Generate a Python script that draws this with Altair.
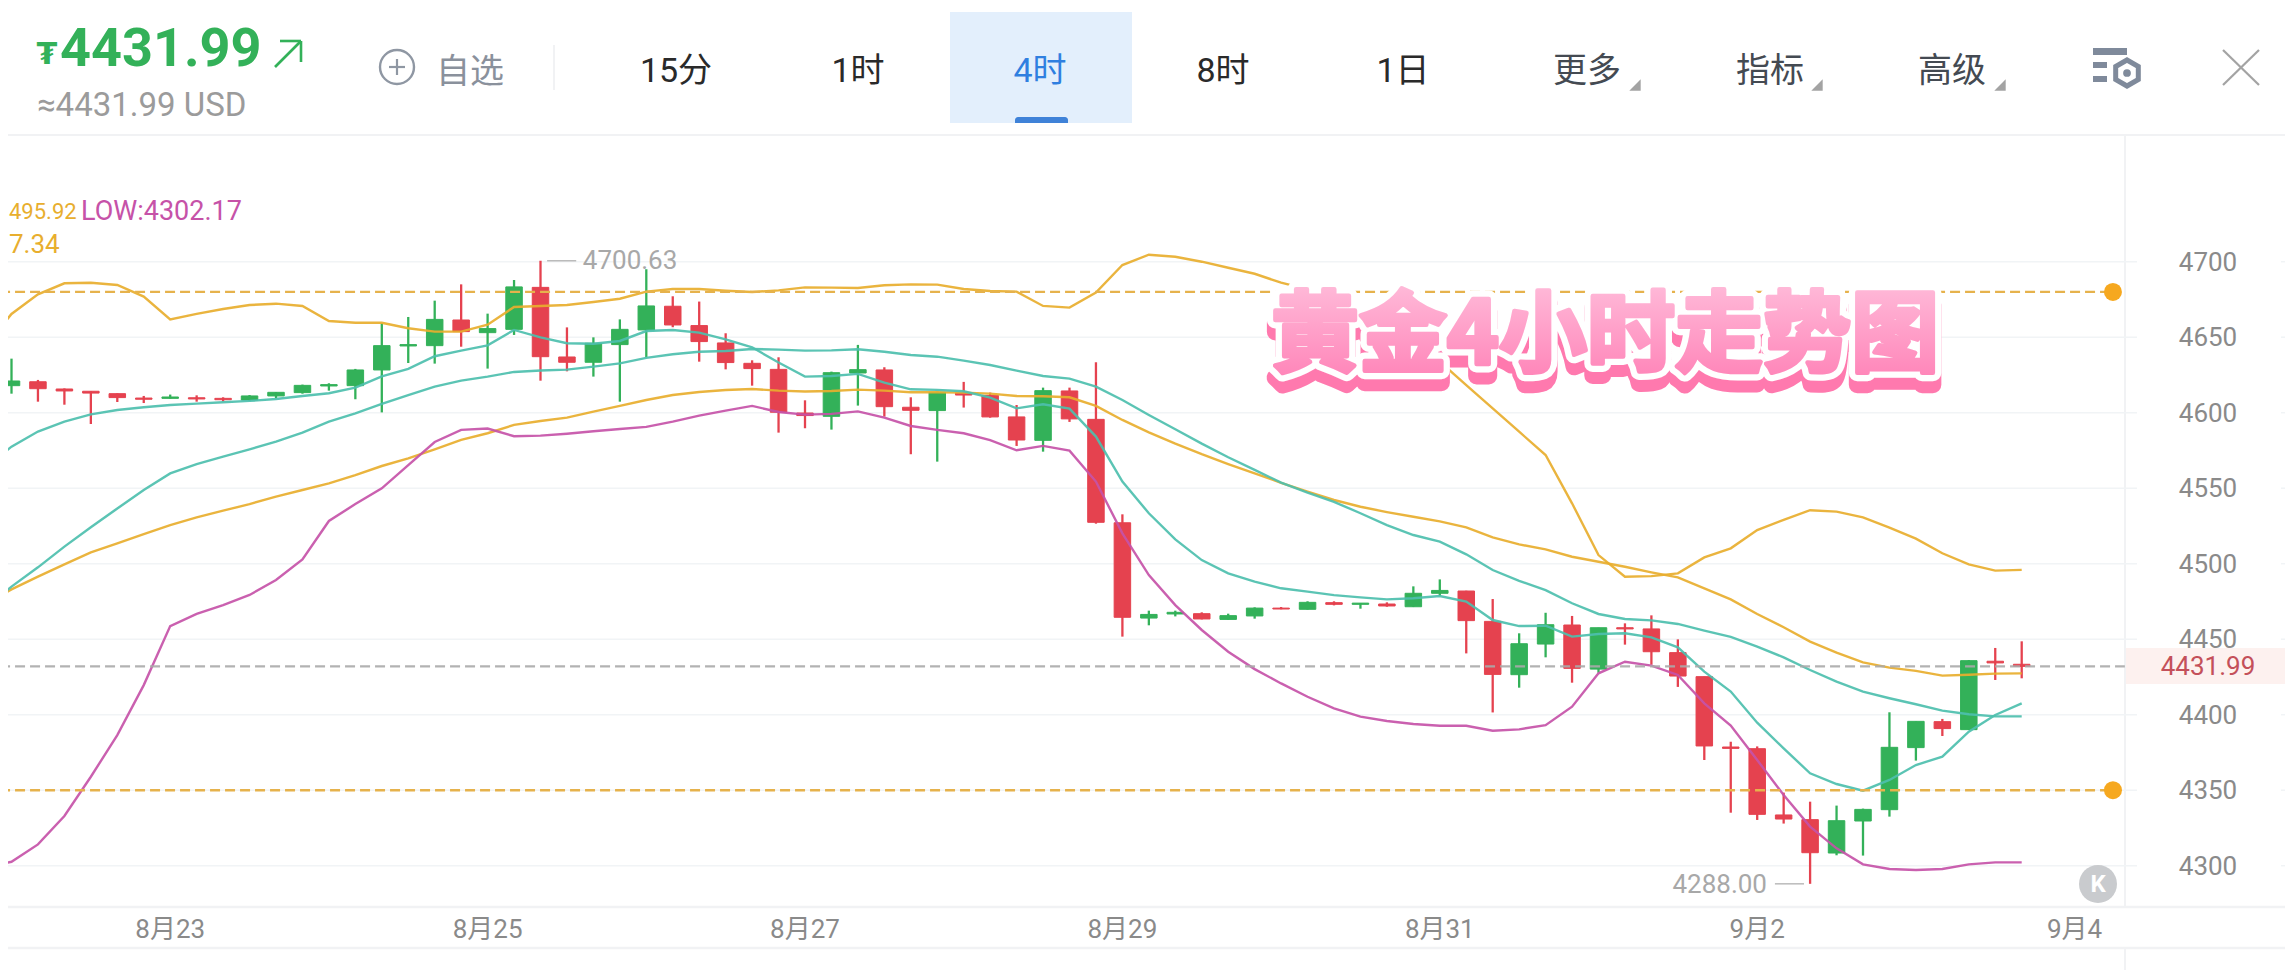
import altair as alt
import pandas as pd

# ---------- candle values (index 0..76) ----------
opens = [4617.9,4620.5,4615.7,4614.2,4612.6,4609.7,4609.5,4609.9,4609.5,4608.4,4611.1,4613.3,4617.7,4617.9,4628.3,4644.2,4644.4,4661.4,4653.0,4655.2,4683.0,4636.9,4633.4,4645.1,4654.8,4670.5,4657.7,4646.2,4632.7,4628.7,4599.8,4597.6,4626.3,4628.3,4603.6,4601.4,4613.1,4611.5,4597.2,4581.7,4614.4,4595.6,4527.1,4464.0,4466.7,4466.9,4463.1,4465.4,4470.6,4469.8,4474.2,4473.1,4473.3,4471.5,4480.4,4481.9,4461.8,4426.5,4446.8,4459.4,4430.2,4457.6,4456.8,4441.1,4425.2,4378.6,4377.5,4333.6,4330.5,4308.4,4329.6,4337.1,4378.2,4395.4,4390.1,4435.4,4433.4]
closes = [4621.0,4615.9,4614.4,4613.0,4610.0,4608.9,4610.4,4609.1,4608.6,4611.1,4613.5,4618.1,4618.6,4628.3,4644.4,4645.1,4661.8,4653.7,4655.7,4683.3,4637.1,4633.4,4646.0,4655.2,4670.7,4658.1,4647.1,4633.2,4629.2,4600.3,4598.1,4626.5,4628.5,4604.0,4601.6,4613.5,4611.7,4597.2,4581.9,4614.6,4595.9,4527.4,4464.5,4466.4,4467.8,4463.4,4465.6,4470.6,4470.0,4474.4,4473.1,4473.9,4472.0,4480.4,4482.3,4462.3,4426.7,4447.0,4459.6,4430.7,4457.6,4456.8,4441.7,4425.6,4379.3,4377.7,4334.0,4330.9,4308.6,4329.8,4337.3,4378.4,4395.6,4390.8,4435.8,4434.3,4431.99]
highs = [4635.8,4621.7,4616.1,4614.2,4612.8,4611.1,4612.0,4611.5,4610.2,4611.7,4613.7,4618.6,4619.5,4629.0,4659.2,4663.4,4674.2,4685.0,4665.6,4687.9,4700.63,4656.5,4649.9,4661.8,4695.0,4677.1,4673.6,4652.6,4634.7,4636.7,4608.2,4627.2,4644.9,4630.1,4610.2,4614.0,4620.4,4613.3,4605.1,4616.6,4616.6,4633.4,4532.7,4468.9,4468.9,4467.8,4466.9,4471.1,4471.3,4475.1,4475.1,4473.9,4474.4,4485.0,4489.6,4482.1,4476.6,4453.9,4467.5,4465.4,4457.6,4460.5,4465.8,4449.9,4425.2,4382.1,4379.0,4348.4,4342.4,4339.8,4337.8,4401.6,4395.6,4397.2,4436.2,4444.2,4448.6]
lows = [4612.6,4607.3,4605.3,4592.5,4607.1,4606.4,4609.3,4607.3,4607.5,4607.7,4609.5,4612.6,4614.6,4608.9,4600.2,4632.9,4632.5,4643.7,4629.2,4651.5,4621.2,4627.4,4623.9,4607.3,4636.7,4656.6,4633.8,4628.7,4617.9,4586.8,4589.7,4588.8,4604.7,4597.4,4572.5,4567.6,4603.4,4596.7,4578.0,4574.2,4593.9,4526.5,4451.7,4459.2,4465.1,4463.1,4462.9,4463.6,4469.8,4469.6,4472.4,4470.2,4471.5,4471.3,4478.6,4440.6,4401.5,4417.9,4438.0,4421.2,4427.8,4446.4,4433.1,4418.4,4370.0,4335.1,4330.3,4327.9,4288.0,4306.9,4306.7,4332.5,4369.6,4385.9,4389.9,4423.0,4424.1]

# ---------- indicator lines (index -1..76) ----------
upper = [4643.7,4665.4,4678.4,4685.7,4686.1,4684.6,4676.9,4661.8,4665.4,4668.7,4671.3,4672.2,4670.7,4660.7,4659.6,4659.6,4655.9,4653.7,4653.7,4658.3,4670.0,4670.7,4671.3,4673.3,4675.5,4680.2,4681.9,4681.9,4680.8,4679.9,4681.0,4683.0,4682.8,4682.6,4684.4,4685.0,4684.8,4681.9,4680.6,4680.2,4670.7,4669.6,4679.5,4697.8,4704.6,4703.3,4700.0,4696.0,4692.0,4686.1,4681.7,4674.6,4667.5,4653.6,4640.4,4633.8,4618.3,4602.9,4587.4,4572.0,4540.0,4505.7,4491.4,4491.8,4493.6,4504.2,4510.2,4522.3,4529.0,4535.4,4534.5,4530.7,4523.9,4516.6,4506.9,4499.6,4495.4,4495.92]
middle = [4473.3,4483.0,4491.4,4499.6,4507.5,4513.5,4519.6,4525.6,4530.7,4535.1,4539.5,4544.4,4548.8,4553.2,4558.7,4564.7,4569.8,4575.7,4582.0,4586.4,4591.9,4594.5,4596.7,4600.7,4604.5,4608.4,4611.7,4613.7,4615.0,4615.7,4614.6,4614.0,4614.4,4615.3,4614.6,4613.5,4613.5,4613.3,4612.6,4611.1,4610.9,4610.2,4604.5,4595.2,4587.0,4579.5,4572.5,4566.0,4559.8,4553.6,4547.7,4542.2,4537.7,4534.2,4531.1,4528.0,4524.1,4517.4,4512.8,4509.5,4504.6,4501.3,4498.0,4494.3,4491.0,4483.7,4476.4,4466.7,4457.9,4448.4,4441.1,4434.7,4431.2,4429.0,4425.9,4426.5,4427.2,4427.34]
teal_slow = [4470.9,4484.8,4497.6,4511.3,4524.1,4536.6,4548.8,4559.8,4566.0,4570.9,4575.7,4580.8,4586.8,4594.1,4599.6,4605.8,4611.7,4617.3,4621.2,4623.9,4627.0,4627.9,4628.5,4630.5,4632.7,4636.3,4638.7,4640.4,4640.9,4642.2,4641.8,4641.1,4641.3,4642.0,4640.4,4638.2,4637.1,4634.5,4631.6,4627.9,4624.3,4622.6,4617.3,4608.4,4598.5,4589.0,4579.5,4570.5,4562.1,4553.7,4547.0,4541.0,4533.4,4525.6,4519.0,4514.6,4506.2,4495.8,4488.7,4482.5,4473.8,4466.7,4463.4,4462.5,4460.1,4455.7,4451.5,4445.1,4438.0,4429.6,4421.9,4415.3,4410.9,4406.9,4402.7,4400.3,4398.9,4398.9]
teal_fast = [4563.4,4577.5,4587.5,4594.1,4598.9,4601.8,4603.6,4605.1,4606.0,4606.9,4607.8,4609.1,4611.1,4612.9,4616.6,4624.1,4629.0,4637.4,4641.1,4644.6,4654.8,4649.9,4646.0,4645.7,4647.5,4654.1,4654.8,4653.0,4648.6,4643.3,4633.2,4623.9,4624.3,4625.7,4619.9,4615.5,4615.1,4614.2,4610.0,4602.9,4605.6,4602.7,4584.2,4554.4,4533.4,4516.1,4502.4,4493.6,4488.1,4483.7,4481.5,4479.2,4477.7,4476.4,4477.1,4478.6,4474.9,4462.7,4458.7,4458.9,4451.7,4453.4,4453.9,4451.2,4444.6,4428.5,4415.3,4394.7,4377.7,4361.2,4354.1,4349.7,4356.8,4366.7,4372.2,4388.8,4399.8,4407.5]
lower = [4299.3,4302.6,4314.1,4332.9,4358.9,4386.5,4419.6,4458.7,4466.7,4472.6,4479.3,4489.2,4502.9,4528.3,4539.5,4549.9,4565.3,4580.6,4588.6,4589.5,4584.4,4584.8,4586.1,4587.7,4589.2,4590.6,4594.1,4598.1,4601.4,4604.5,4600.5,4598.7,4599.2,4600.9,4596.7,4591.2,4588.6,4586.4,4581.9,4575.1,4578.0,4574.9,4554.4,4520.1,4492.5,4472.6,4456.1,4441.7,4430.2,4420.7,4411.9,4404.2,4398.7,4395.8,4393.8,4392.7,4392.7,4389.4,4390.3,4393.1,4405.3,4427.4,4435.1,4432.5,4426.3,4407.5,4392.8,4370.0,4346.8,4325.9,4311.5,4300.9,4297.8,4297.2,4297.8,4300.9,4302.2,4302.17]

y_ticks = [4700, 4650, 4600, 4550, 4500, 4450, 4400, 4350, 4300]
date_labels = ["8月23", "8月25", "8月27", "8月29", "8月31", "9月2", "9月4"]
date_index = [6, 18, 30, 42, 54, 66, 78]
alert_levels = [4680, 4350]
last_price = 4431.99
high_mark = 4700.63
low_mark = 4288.00

GREEN = "#33b159"; RED = "#e5424f"
TEAL = "#4dbfae"; GOLD = "#e8ae2e"; MAGENTA = "#c652a8"
FONT = 'Roboto, "Noto Sans CJK SC"'
CJK = '"Noto Sans CJK SC", Roboto'

R, B = 2285, 970          # right and bottom page edges of the drawing
W, H = R - 8, B - 8
sx = alt.Scale(domain=[(8 - 11.5) / 26.45, (R - 11.5) / 26.45], nice=False, zero=False, padding=0)
sy = alt.Scale(domain=[4700 - (B - 261.7) / 1.51, 4700 + (261.7 - 8) / 1.51], nice=False, zero=False, padding=0)
X = lambda f: alt.X(f, scale=sx, axis=None)
Y = lambda f: alt.Y(f, scale=sy, axis=None)


def txt(s, x, y, size, color, align="center", weight="normal", font=FONT, **kw):
    return alt.Chart().mark_text(text=s, fontSize=size, color=color, align=align, baseline="middle",
                                 fontWeight=weight, font=font, **kw).encode(
        x=alt.value(x - 8), y=alt.value(y - 8))


def seg(x1, y1, x2, y2, color, w=2):
    return alt.Chart().mark_rule(color=color, strokeWidth=w).encode(
        x=alt.value(x1 - 8), x2=alt.value(x2 - 8), y=alt.value(y1 - 8), y2=alt.value(y2 - 8))


def box(x1, y1, x2, y2, color, **kw):
    return alt.Chart().mark_rect(color=color, **kw).encode(
        x=alt.value(x1 - 8), x2=alt.value(x2 - 8), y=alt.value(y1 - 8), y2=alt.value(y2 - 8))


def sym(x, y, size, shape="circle", fill=None, stroke=None, w=2):
    kw = dict(shape=shape, size=size, opacity=1, strokeWidth=w)
    kw.update(dict(filled=True, color=fill) if fill else dict(filled=False, color=stroke))
    return alt.Chart().mark_point(**kw).encode(x=alt.value(x - 8), y=alt.value(y - 8))


# ---------- data tables ----------
candles = pd.DataFrame({"i": range(77), "open": opens, "close": closes, "high": highs, "low": lows})
candles["top"] = candles[["open", "close"]].max(axis=1)
candles["bottom"] = candles[["open", "close"]].min(axis=1)
candles["dir"] = ["up" if c >= o else "down" for o, c in zip(opens, closes)]
dir_color = alt.Color("dir:N", scale=alt.Scale(domain=["up", "down"], range=[GREEN, RED]), legend=None)

series = {"upper": (upper, GOLD), "middle": (middle, GOLD), "slow": (teal_slow, TEAL),
          "fast": (teal_fast, TEAL), "lower": (lower, MAGENTA)}
lines = []
for name, (vals, col) in series.items():
    df = pd.DataFrame({"i": range(-1, 77), "p": vals})
    lines.append(alt.Chart(df).mark_line(color=col, strokeWidth=2.4, clip=True, opacity=0.92).encode(
        x=X("i:Q"), y=Y("p:Q")))

grid_df = pd.DataFrame({"p": y_ticks})
grid_left = alt.Chart(grid_df).mark_rule(color="#f1f4f6", strokeWidth=1.5).encode(
    y=Y("p:Q"), x=alt.value(0), x2=alt.value(2137 - 8))
grid_right = alt.Chart(grid_df).mark_rule(color="#f1f4f6", strokeWidth=1.5).encode(
    y=Y("p:Q"), x=alt.value(2281 - 8), x2=alt.value(W))
y_labels = alt.Chart(grid_df).mark_text(fontSize=26, color="#8a8a8a", font=FONT, align="center", baseline="middle", dy=1).encode(
    y=Y("p:Q"), x=alt.value(2208 - 8), text=alt.Text("p:Q", format="d"))

date_df = pd.DataFrame({"i": date_index, "t": date_labels})
x_labels = alt.Chart(date_df).mark_text(fontSize=26, color="#8a8a8a", font=FONT, align="center", baseline="middle").encode(
    x=X("i:Q"), y=alt.value(930 - 8), text="t:N")

wicks = alt.Chart(candles).mark_rule(strokeWidth=2.3).encode(x=X("i:Q"), y=Y("high:Q"), y2="low:Q", color=dir_color)
bodies = alt.Chart(candles).mark_bar(size=16.5, strokeWidth=1).encode(
    x=X("i:Q"), y=Y("top:Q"), y2="bottom:Q", color=dir_color, stroke=dir_color)

alert_df = pd.DataFrame({"p": alert_levels, "a": -1.0, "b": 79.45})
alert_lines = alt.Chart(alert_df).mark_rule(color="#e6b24c", strokeWidth=2.4, strokeDash=[10, 5], clip=True).encode(
    y=Y("p:Q"), x=X("a:Q"), x2="b:Q")
alert_dots = alt.Chart(alert_df).mark_circle(color="#f6a81f", size=324, opacity=1).encode(y=Y("p:Q"), x=X("b:Q"))

last_df = pd.DataFrame({"p": [last_price], "a": -1.0, "b": 79.9, "t": ["4431.99"]})
last_line = alt.Chart(last_df).mark_rule(color="#aaaaaa", strokeWidth=2.2, strokeDash=[10, 5], clip=True, opacity=0.9).encode(
    y=Y("p:Q"), x=X("a:Q"), x2="b:Q")
last_label = alt.Chart(last_df).mark_text(fontSize=26, color="#c4505a", font=FONT, align="center", baseline="middle", dy=1).encode(
    y=Y("p:Q"), x=alt.value(2208 - 8), text="t:N")

hi_df = pd.DataFrame({"p": [high_mark], "a": [20.25], "b": [21.35], "c": [21.6], "t": ["4700.63"]})
lo_df = pd.DataFrame({"p": [low_mark], "a": [66.67], "b": [67.77], "c": [66.37], "t": ["4288.00"]})
ext = [
    alt.Chart(hi_df).mark_rule(color="#bbbbbb", strokeWidth=1.5).encode(y=Y("p:Q"), x=X("a:Q"), x2="b:Q"),
    alt.Chart(lo_df).mark_rule(color="#bbbbbb", strokeWidth=1.5).encode(y=Y("p:Q"), x=X("a:Q"), x2="b:Q"),
    alt.Chart(hi_df).mark_text(fontSize=26, color="#a8a8a8", font=FONT, align="left", baseline="middle").encode(
        y=Y("p:Q"), x=X("c:Q"), text="t:N"),
    alt.Chart(lo_df).mark_text(fontSize=26, color="#a8a8a8", font=FONT, align="right", baseline="middle", dy=1).encode(
        y=Y("p:Q"), x=X("c:Q"), text="t:N"),
]

# ---------- page chrome ----------
SEP = "#f1f2f4"
frame = [
    box(950, 12, 1132, 123, "#e3effc"),
    box(1015, 117, 1068, 123, "#3f82d8", cornerRadiusTopLeft=4, cornerRadiusTopRight=4),
    box(2125, 648, R, 684, "#fdf1ef"),
    seg(8, 135, R, 135, SEP, 2),
    seg(8, 907, R, 907, SEP, 2.5),
    seg(8, 948, R, 948, SEP, 2.5),
    seg(2125, 135, 2125, 907, SEP, 2),
    seg(2125, 948, 2125, B, SEP, 2),
    seg(554, 45, 554, 90, SEP, 2),
]
head = [
    txt("₮", 47, 55, 30, GREEN, weight="bold", font="DejaVu Sans"),
    txt("4431.99", 60, 50, 54, GREEN, align="left", weight="bold"),
    seg(275, 67, 301, 41, GREEN, 2.6), seg(280, 41, 301, 41, GREEN, 2.6), seg(301, 41, 301, 62, GREEN, 2.6),
    txt("≈4431.99 USD", 37, 106, 33, "#9b9b9b", align="left"),
    sym(397, 67, 1156, stroke="#8f97a3", w=2.4),
    seg(389, 67, 405, 67, "#8f97a3", 2.2), seg(397, 59, 397, 75, "#8f97a3", 2.2),
    txt("自选", 470, 73, 34, "#8a919c", font=CJK),
    txt("15分", 676, 72, 34, "#2a2a2a"),
    txt("1时", 858, 72, 34, "#2a2a2a"),
    txt("4时", 1040, 72, 34, "#2f7fe0"),
    txt("8时", 1223, 72, 34, "#2a2a2a"),
    txt("1日", 1403, 72, 34, "#2a2a2a"),
    txt("更多", 1587, 72, 34, "#444a52", font=CJK),
    txt("指标", 1770, 72, 34, "#444a52", font=CJK),
    txt("高级", 1952, 72, 34, "#444a52", font=CJK),
    sym(1635, 85, 130, shape="M1,-1L1,1L-1,1Z", fill="#a3a3a3"),
    sym(1817, 85, 130, shape="M1,-1L1,1L-1,1Z", fill="#a3a3a3"),
    sym(2000, 85, 130, shape="M1,-1L1,1L-1,1Z", fill="#a3a3a3"),
    box(2093, 48, 2127, 55, "#7f8a9b"), box(2093, 62, 2107, 68, "#7f8a9b"), box(2093, 76, 2107, 82, "#7f8a9b"),
    sym(2127, 73, 676, shape="M0,-1L0.87,-0.5L0.87,0.5L0,1L-0.87,0.5L-0.87,-0.5Z", stroke="#7f8a9b", w=5),
    sym(2127, 73, 60, fill="#7f8a9b"),
    seg(2223, 50, 2259, 85, "#a3a3a3", 2.2), seg(2259, 50, 2223, 85, "#a3a3a3", 2.2),
    txt("495.92", 9, 212, 22, GOLD, align="left"),
    txt("LOW:4302.17", 81, 212, 27, MAGENTA, align="left"),
    txt("7.34", 9, 245, 26, GOLD, align="left"),
    sym(2098, 884, 1444, fill="#c9cbce"),
    txt("K", 2098, 885, 24, "#ffffff", weight="bold"),
]

TITLE = "黄金4小时走势图"
grad = alt.LinearGradient(gradient="linear", x1=0, y1=0, x2=0, y2=1,
                          stops=[alt.GradientStop(color="#ffc6e0", offset=0), alt.GradientStop(color="#ff7fb5", offset=1)])
tkw = dict(strokeJoin="round")
title = [
    txt(TITLE, 1605, 350, 88, "#ff79ae", weight="bold", font=CJK, stroke="#ff79ae", strokeWidth=17, **tkw),
    txt(TITLE, 1605, 338, 88, "#ffffff", weight="bold", font=CJK, stroke="#ffffff", strokeWidth=17, **tkw),
    alt.Chart().mark_text(text=TITLE, fontSize=88, align="center", baseline="middle", fontWeight="bold", font=CJK,
                          color=grad, stroke=grad, strokeWidth=4.5, strokeJoin="round").encode(
        x=alt.value(1605 - 8), y=alt.value(338 - 8)),
]

chart = alt.layer(
    *frame, grid_left, grid_right, y_labels, x_labels,
    wicks, bodies, *lines, alert_lines, alert_dots, last_line, last_label, *ext, *head, *title
).properties(width=W, height=H, padding=0, background="white",
             autosize=alt.AutoSizeParams(type="none")).configure_view(stroke=None)

chart.save("out.html", embed_options={"renderer": "svg", "actions": False})
